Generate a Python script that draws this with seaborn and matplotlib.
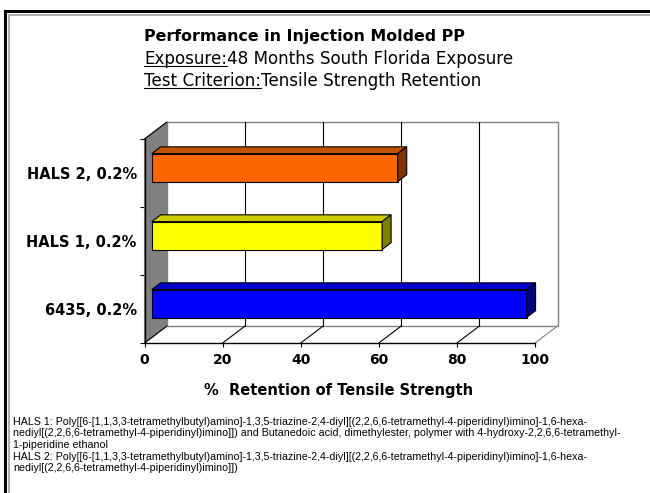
import matplotlib
matplotlib.use("Agg")
import matplotlib.pyplot as plt
from matplotlib.patches import Polygon
from matplotlib.lines import Line2D
from matplotlib.transforms import Affine2D, IdentityTransform
import seaborn as sns
import pandas as pd

# data
labels = ["HALS 2, 0.2%", "HALS 1, 0.2%", "6435, 0.2%"]
retention = [63, 59, 96]
front_colors = ["#FF6600", "#FFFF00", "#0000FF"]
top_colors = ["#C45200", "#CCCC00", "#0000CC"]
side_colors = ["#803300", "#808000", "#000080"]
xticks = [0, 20, 40, 60, 80, 100]

title = "Performance in Injection Molded PP"
sub_exposure = ["Exposure:", "48 Months South Florida Exposure"]
sub_test = ["Test Criterion:", "Tensile Strength Retention"]
xlabel = "%  Retention of Tensile Strength"
footnotes = [
    "HALS 1: Poly[[6-[1,1,3,3-tetramethylbutyl)amino]-1,3,5-triazine-2,4-diyl][(2,2,6,6-tetramethyl-4-piperidinyl)imino]-1,6-hexa-",
    "nediyl[(2,2,6,6-tetramethyl-4-piperidinyl)imino]]) and Butanedoic acid, dimethylester, polymer with 4-hydroxy-2,2,6,6-tetramethyl-",
    "1-piperidine ethanol",
    "HALS 2: Poly[[6-[1,1,3,3-tetramethylbutyl)amino]-1,3,5-triazine-2,4-diyl][(2,2,6,6-tetramethyl-4-piperidinyl)imino]-1,6-hexa-",
    "nediyl[(2,2,6,6-tetramethyl-4-piperidinyl)imino]])",
]

sns.set_theme(style="white")
plt.rcParams["font.family"] = ["DejaVu Sans"]

W, H = 650, 493
fig = plt.figure(figsize=(6.5, 4.93), dpi=100)
fig.patch.set_facecolor("white")

# front plane of the 3d box
ax = fig.add_axes([144.5 / W, 1 - 343 / H, 390.5 / W, 204 / H])
ax.patch.set_visible(False)

df = pd.DataFrame({"label": labels, "retention": retention})
sns.barplot(data=df, x="retention", y="label", hue="label", order=labels,
            palette=dict(zip(labels, front_colors)), width=0.41, saturation=1,
            edgecolor="black", linewidth=0.8, errorbar=None, legend=False,
            ax=ax, zorder=5)
ax.set_xlim(0, 100)
ax.set_ylim(2.5, -0.5)
ax.set_ylabel("")
ax.grid(False)

# depth of the box in pixels
DX, DY = 22.5, 17.0
bar_front, bar_depth = 0.32, 0.40

xt = ax.get_xaxis_transform()
ident = IdentityTransform()


def front(x, yf):
    return xt.transform((x, yf))


def back(x, yf):
    p = xt.transform((x, yf))
    return (p[0] + DX, p[1] + DY)


def seg(p, q, color, lw=0.8, z=1):
    ax.add_line(Line2D([p[0], q[0]], [p[1], q[1]], color=color, lw=lw,
                       transform=ident, clip_on=False, zorder=z))


# back wall
ax.add_patch(Polygon([back(0, 0), back(100, 0), back(100, 1), back(0, 1)],
                     closed=True, facecolor="white", edgecolor="#808080",
                     lw=1.0, transform=ident, clip_on=False, zorder=0.5))
for x in xticks[1:-1]:
    seg(back(x, 0), back(x, 1), "black")
# floor
for x in xticks:
    seg(front(x, 0), back(x, 0), "black" if x < 100 else "#808080")
# left wall
ax.add_patch(Polygon([front(0, 0), front(0, 1), back(0, 1), back(0, 0)],
                     closed=True, facecolor="#808080", edgecolor="#808080",
                     lw=0.8, transform=ident, clip_on=False, zorder=0.8))
seg(front(0, 1), back(0, 1), "black", z=1.2)

# push the bars into the box and add their top and side faces
sx, sy = bar_front * DX, bar_front * DY
bx, by = bar_depth * DX, bar_depth * DY
for k, p in enumerate(ax.patches[:len(labels)]):
    x0, y0 = p.get_x(), p.get_y()
    corners = ax.transData.transform([(x0, y0), (x0 + p.get_width(), y0 + p.get_height())])
    L, R = corners[:, 0].min() + sx, corners[:, 0].max() + sx
    B, T = corners[:, 1].min() + sy, corners[:, 1].max() + sy
    p.set_transform(ax.transData + Affine2D().translate(sx, sy))
    p.set_clip_on(False)
    ax.add_patch(Polygon([(L, T), (R, T), (R + bx, T + by), (L + bx, T + by)],
                         closed=True, facecolor=top_colors[k], edgecolor="black",
                         lw=0.8, transform=ident, clip_on=False, zorder=5))
    ax.add_patch(Polygon([(R, T), (R, B), (R + bx, B + by), (R + bx, T + by)],
                         closed=True, facecolor=side_colors[k], edgecolor="black",
                         lw=0.8, transform=ident, clip_on=False, zorder=5))

for side in ["top", "right"]:
    ax.spines[side].set_visible(False)
for side in ["left", "bottom"]:
    ax.spines[side].set_color("black")
    ax.spines[side].set_linewidth(1.0)
    ax.spines[side].set_zorder(2)

ax.set_xticks(xticks)
ax.set_xticklabels([str(t) for t in xticks])
ax.tick_params(axis="x", bottom=True, direction="out", length=3, width=0.8,
               color="black", pad=4.5, labelsize=10, labelcolor="black")
ax.tick_params(axis="y", which="major", left=True, length=0, pad=5.5,
               labelsize=10.5, labelcolor="black")
ax.set_yticks([-0.5, 0.5, 1.5, 2.5], minor=True)
ax.tick_params(axis="y", which="minor", left=True, length=3.6, width=0.8,
               color="black", direction="out")
for lab in ax.get_xticklabels() + ax.get_yticklabels():
    lab.set_fontweight("bold")

ax.set_xlabel(xlabel, fontsize=10.5, fontweight="bold", color="black")
ax.xaxis.set_label_coords((339 - 144.5) / 390.5, (H - 390 - 150) / 204)
ax.xaxis.label.set_va("center")

# titles
fig.text(144 / W, 1 - 41 / H, title, fontsize=11.4, fontweight="bold",
         va="baseline", ha="left", color="black")
renderer = fig.canvas.get_renderer()
for y_img, (head, rest) in [(63.5, sub_exposure), (86, sub_test)]:
    t = fig.text(144 / W, 1 - y_img / H, head, fontsize=12.1, va="baseline",
                 ha="left", color="black")
    bb = t.get_window_extent(renderer)
    base = H - y_img
    fig.add_artist(Line2D([bb.x0, bb.x1], [base - 2, base - 2], color="black",
                          lw=0.8, transform=ident))
    fig.text(bb.x1 / W, 1 - y_img / H, rest, fontsize=12.1, va="baseline",
             ha="left", color="black")

# footnotes, sized so the first line runs from x=13 to about x=584
probe = fig.text(0, 0, footnotes[0], fontsize=10, family=["Liberation Sans"])
note_size = 10 * 571 / probe.get_window_extent(renderer).width
probe.remove()
for i, line in enumerate(footnotes):
    fig.text(13 / W, 1 - (422 + i * 11.5) / H, line, fontsize=note_size,
             family=["Liberation Sans"], va="center", ha="left", color="black")

# frame around the slide
fig.add_artist(Line2D([5.3, 5.3, W], [0, H - 10.7, H - 10.7], color="black",
                      lw=2.2, transform=ident, solid_joinstyle="miter"))
fig.add_artist(Line2D([8.8, 8.8, W], [0, H - 14.8, H - 14.8], color="#A0A0A0",
                      lw=1.2, transform=ident, solid_joinstyle="miter"))

fig.savefig("out.png", dpi=100)
